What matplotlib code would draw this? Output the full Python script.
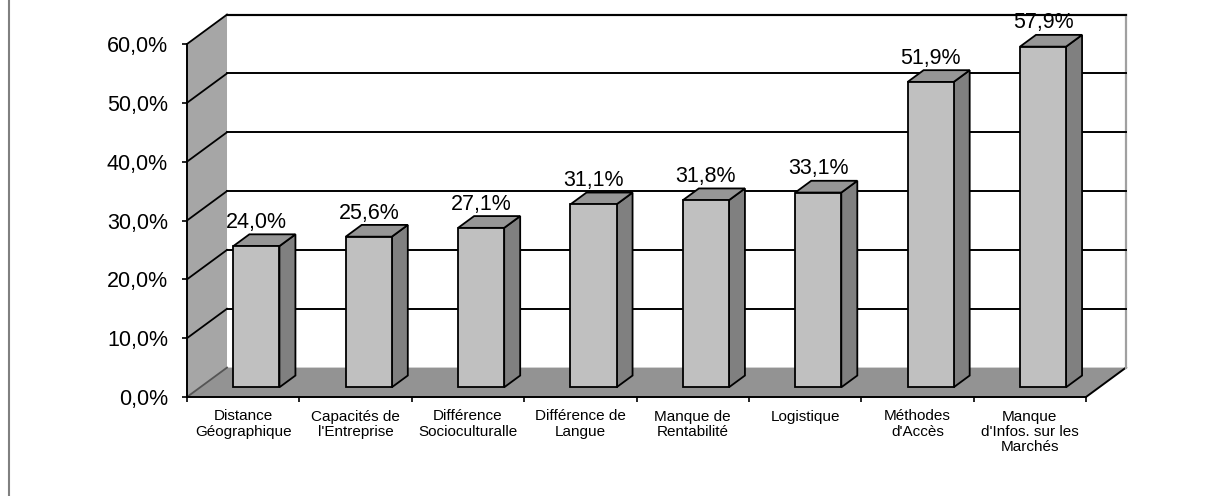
import numpy as np
import matplotlib.pyplot as plt
from matplotlib.patches import Polygon
from matplotlib.lines import Line2D

plt.rcParams['font.family'] = ['Liberation Sans', 'DejaVu Sans']

# DONNÉES
categories = [
    "Distance\nGéographique",
    "Capacités de\nl'Entreprise",
    "Différence\nSocioculturalle",
    "Différence de\nLangue",
    "Manque de\nRentabilité",
    "Logistique",
    "Méthodes\nd'Accès",
    "Manque\nd'Infos. sur les\nMarchés",
]
valeurs = [24.0, 25.6, 27.1, 31.1, 31.8, 33.1, 51.9, 57.9]
yticks = [0, 10, 20, 30, 40, 50, 60]

# PROFONDEUR 3D (en unités de données)
DX = 0.356   # décalage horizontal du fond (catégories)
DY = 5.0     # décalage vertical du fond (%)
D0, D1 = 0.33, 0.73   # profondeur avant / arrière des barres
DEMI_LARGEUR = 0.205

C_FACE = '#c0c0c0'
C_COTE = '#808080'
C_HAUT = '#969696'
C_MUR = '#a6a6a6'
C_SOL = '#939393'

W, H = 1205, 496
fig = plt.figure(figsize=(W / 100, H / 100), dpi=100, facecolor='white')
ax = fig.add_axes([187 / W, 1 - 397 / H, 899 / W, 353 / H])

n = len(categories)
xmin, xmax = -0.5, n - 0.5
ymax = yticks[-1]
ax.set_xlim(xmin, xmax)
ax.set_ylim(0, ymax)

# 1. MURS ET SOL
mur_gauche = Polygon([(xmin, 0), (xmin, ymax), (xmin + DX, ymax + DY), (xmin + DX, DY)],
                     closed=True, facecolor=C_MUR, edgecolor='none', zorder=1, clip_on=False)
sol = Polygon([(xmin, 0), (xmax, 0), (xmax + DX, DY), (xmin + DX, DY)],
              closed=True, facecolor=C_SOL, edgecolor='none', zorder=1, clip_on=False)
ax.add_patch(mur_gauche)
ax.add_patch(sol)

# bord droit du sol
ax.plot([xmax, xmax + DX], [0, DY], color='black', lw=1.4, zorder=2, clip_on=False)
# bords du mur du fond
ax.plot([xmin + DX, xmax + DX], [ymax + DY, ymax + DY], color='#3a3a3a', lw=1.6, zorder=2, clip_on=False)
ax.plot([xmax + DX, xmax + DX], [DY, ymax + DY], color='#a0a0a0', lw=1.6, zorder=2, clip_on=False)

# 2. QUADRILLAGE (fond + mur gauche)
for t in yticks:
    c = '#555555' if t == 0 else 'black'
    ax.plot([xmin, xmin + DX], [t, t + DY], color=c, lw=1.3, zorder=2, clip_on=False)
    if t > 0:
        ax.plot([xmin + DX, xmax + DX], [t + DY, t + DY], color=c, lw=1.4, zorder=2, clip_on=False)

# 3. BARRES 3D
wx = (D1 - D0) * DX
wy = (D1 - D0) * DY
for i, v in enumerate(valeurs):
    x0 = i - DEMI_LARGEUR + D0 * DX
    x1 = i + DEMI_LARGEUR + D0 * DX
    y0 = D0 * DY
    y1 = v + D0 * DY
    kw = dict(closed=True, edgecolor='black', lw=1.3, joinstyle='miter', zorder=5, clip_on=False)
    ax.add_patch(Polygon([(x1, y0), (x1 + wx, y0 + wy), (x1 + wx, y1 + wy), (x1, y1)],
                         facecolor=C_COTE, **kw))
    ax.add_patch(Polygon([(x0, y1), (x1, y1), (x1 + wx, y1 + wy), (x0 + wx, y1 + wy)],
                         facecolor=C_HAUT, **kw))
    ax.add_patch(Polygon([(x0, y0), (x1, y0), (x1, y1), (x0, y1)],
                         facecolor=C_FACE, **kw))
    etiquette = f"{v:.1f}%".replace('.', ',')
    ax.annotate(etiquette, xy=(i + D0 * DX, v + D1 * DY), xytext=(0, 1.0),
                textcoords='offset points', ha='center', va='bottom',
                fontsize=15.5, zorder=6, annotation_clip=False)

# 4. AXES
for s in ['top', 'right']:
    ax.spines[s].set_visible(False)
for s in ['left', 'bottom']:
    ax.spines[s].set_color('black')
    ax.spines[s].set_linewidth(1.4)
    ax.spines[s].set_zorder(7)

ax.set_yticks(yticks)
ax.set_yticklabels([f"{t:.1f}%".replace('.', ',') for t in yticks], fontsize=15.5)
ax.tick_params(axis='y', direction='out', length=3.6, width=1.2, pad=10)

ax.set_xticks(range(n))
ax.set_xticklabels(categories, fontsize=11, linespacing=1.1, va='top')
ax.set_xticks(np.arange(xmin, xmax + 0.5), minor=True)
ax.tick_params(axis='x', which='major', length=0, pad=9)
ax.tick_params(axis='x', which='minor', direction='out', length=3.6, width=1.2)
ax.set_facecolor('none')

# cadre du graphique (seul le bord gauche est visible)
fig.add_artist(Line2D([8.5 / W, 8.5 / W], [0, 1], transform=fig.transFigure,
                      color='#808080', lw=1.5))

fig.savefig('out.png', dpi=100, facecolor='white')
